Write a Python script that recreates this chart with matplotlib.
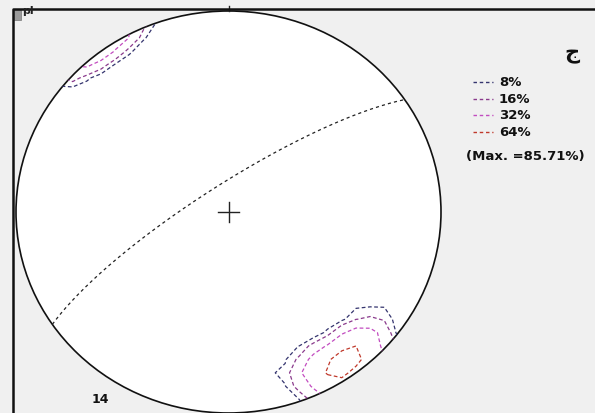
import numpy as np
import matplotlib
matplotlib.use('Agg')
import matplotlib.pyplot as plt
from matplotlib.patches import Circle, Rectangle

plt.rcParams['font.family'] = ['DejaVu Sans']

# pole measurements (trend, plunge) in degrees
trends = [150, 150, 147, 144, 141, 138, 138, 138, 141, 144, 147, 150, 128, 160]
plunges = [8, 11, 14, 14, 14, 11, 8, 5, 2, 2, 2, 5, 16, 22]
# mean plane (dip direction / dip)
plane_dd = 326
plane_dip = 79

levels = [8, 16, 32, 64]
level_labels = ['8%', '16%', '32%', '64%']
level_colors = ['#34346e', '#8a3a8c', '#c24cc0', '#c0392b']

count_angle = np.degrees(np.arccos(0.99))  # 1% area counting circle
taper = 6.5  # soft edge of the counting circle used for contouring


def to_vec(trend, plunge):
    t = np.radians(trend)
    p = np.radians(plunge)
    return np.stack([np.cos(p) * np.sin(t), np.cos(p) * np.cos(t), np.sin(p)], axis=-1)


def project(vec):
    # lower hemisphere equal-area (Schmidt)
    vec = np.where(vec[..., 2:3] < 0, -vec, vec)
    plunge = np.arcsin(np.clip(vec[..., 2], -1, 1))
    trend = np.arctan2(vec[..., 0], vec[..., 1])
    r = np.sqrt(2) * np.sin((np.pi / 2 - plunge) / 2)
    return r * np.sin(trend), r * np.cos(trend)


def pole_angles(gx, gy):
    # angle between every grid node and every pole (axial), nodes outside the net sit on the primitive
    gr = np.minimum(np.hypot(gx, gy), 1.0)
    colat = 2 * np.arcsin(gr / np.sqrt(2))
    gvec = to_vec(np.degrees(np.arctan2(gx, gy)), 90 - np.degrees(colat))
    pvec = to_vec(np.array(trends, float), np.array(plunges, float))
    dots = np.abs(np.einsum('ijk,mk->ijm', gvec, pvec))
    return np.degrees(np.arccos(np.clip(dots, -1, 1)))


N = len(trends)

# raw counts for the maximum
fx, fy = np.meshgrid(np.linspace(-1, 1, 201), np.linspace(-1, 1, 201))
raw = (pole_angles(fx, fy) <= count_angle).sum(axis=2)
raw = np.where(np.hypot(fx, fy) <= 1, raw, 0)
max_pct = 100.0 * raw.max() / N

# contour grid
gx, gy = np.meshgrid(np.linspace(-1, 1, 31), np.linspace(-1, 1, 31))
ang = pole_angles(gx, gy)
w = np.clip((count_angle + taper - ang) / taper, 0, 1)
pct = 100.0 * w.sum(axis=2) / N

fig = plt.figure(figsize=(5.95, 4.14), dpi=100)
fig.patch.set_facecolor('#f0f0f0')

W, H = 595, 414
cx, cy, rx, ry = 228.5, 213, 212.5, 201
ax = fig.add_axes([(cx - rx) / W, 1 - (cy + ry) / H, 2 * rx / W, 2 * ry / H])
ax.set_xlim(-1, 1)
ax.set_ylim(-1, 1)
ax.axis('off')
ax.patch.set_alpha(0)

net = Circle((0, 0), 1, facecolor='white', edgecolor='#111111', lw=1.2, clip_on=False, zorder=1)
ax.add_patch(net)

# great circle of the mean plane
a = np.radians(np.linspace(0, 180, 200))
s = np.radians(plane_dd - 90)
strike_v = np.array([np.sin(s), np.cos(s), 0.0])
dip_v = to_vec(plane_dd, plane_dip)
gc = np.outer(np.cos(a), strike_v) + np.outer(np.sin(a), dip_v)
gcx, gcy = project(gc)
ax.plot(gcx, gcy, color='#222222', lw=0.9, ls=(0, (2.5, 2.5)), zorder=3)

cs = ax.contour(gx, gy, pct, levels=levels, colors=level_colors,
                linestyles=[(0, (3, 2))], linewidths=0.9, zorder=4)
cs.set_clip_path(net)

# centre cross and north tick
ax.plot([-0.05, 0.05], [0, 0], color='#222222', lw=1.0, zorder=5)
ax.plot([0, 0], [-0.05, 0.05], color='#222222', lw=1.0, zorder=5)
ax.plot([0, 0], [1.0, 1.025], color='#222222', lw=1.0, clip_on=False, zorder=5)

# overlay in pixel coordinates: frame, legend, labels
ov = fig.add_axes([0, 0, 1, 1])
ov.set_xlim(0, W)
ov.set_ylim(H, 0)
ov.axis('off')
ov.patch.set_alpha(0)
ov.plot([13, 13, W + 5], [H + 5, 10, 10], color='#111111', lw=1.8, clip_on=False)
ov.add_patch(Rectangle((14, 11), 7, 10, facecolor='#9a9a9a', edgecolor='#777777', lw=0.5))
ov.text(22, 6, 'pl', fontsize=8, fontweight='bold', va='top', ha='left', color='#222222')

ov.text(572, 54, 'ج', fontsize=15, fontweight='bold', ha='center', va='center', color='#111111')
for i, (lab, col) in enumerate(zip(level_labels, level_colors)):
    y = 83 + 16.5 * i
    ov.plot([473, 493], [y, y], color=col, lw=1.0, ls=(0, (2.5, 2)))
    ov.text(499, y, lab, fontsize=9.5, fontweight='bold', va='center', ha='left', color='#111111')
ov.text(466, 157, '(Max. =%.2f%%)' % max_pct, fontsize=9.5, fontweight='bold',
        va='center', ha='left', color='#111111')
ov.text(92, 400, str(N), fontsize=9, fontweight='bold', va='center', ha='left', color='#111111')

fig.savefig('out.png', dpi=100, facecolor=fig.get_facecolor())
